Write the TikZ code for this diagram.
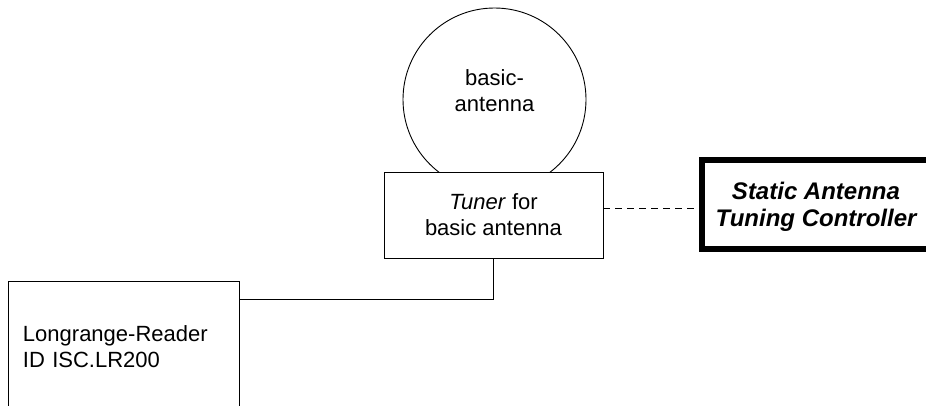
\documentclass[tikz,border=0pt]{standalone}
\usepackage{fontspec}
\setmainfont{Liberation Sans}
\usetikzlibrary{calc}
\begin{document}
\begin{tikzpicture}[x=1pt,y=-1pt,
  thinline/.style={draw=black,line width=0.9pt},
  boxnode/.style={thinline,fill=white,rectangle,inner sep=0pt},
  lbl/.style={font=\fontsize{22}{26}\selectfont,align=center},
  ]
\useasboundingbox (0,0) rectangle (926,405);
\clip (0,0) rectangle (926,405);
% antenna
\node[thinline,circle,minimum size=183pt,inner sep=0pt] (ant) at (494.5,99.5) {};
\node[lbl] (anttext) at (494.5,91) {basic-\\antenna};
% tuner
\node[boxnode,minimum width=219pt,minimum height=86pt,lbl] (tuner) at (493.5,215) {\textit{Tuner} for\\basic antenna};
% reader
\node[boxnode,minimum width=231pt,minimum height=132pt,lbl,align=left,text width=201pt,inner xsep=15pt] (reader) at (123.5,347) {Longrange-Reader\\ID ISC.LR200};
% controller
\node[draw=black,line width=6pt,rectangle,minimum width=228pt,minimum height=89pt,inner sep=0pt] (ctl) at (816,204.5) {};
\node[lbl,font=\fontsize{24}{27}\selectfont\bfseries\itshape] (ctltext) at (816,206.5) {Static Antenna\\Tuning Controller};
% connectors
\coordinate (bend) at (tuner.south |- 0,299);
\draw[thinline] (tuner.south) -- (bend) -- (reader.east |- bend);
\coordinate (dstart) at ($(tuner.east)+(0,-7)$);
\draw[thinline,dash pattern=on 7pt off 5pt] (dstart) -- (ctl.west |- dstart);
\end{tikzpicture}
\end{document}
